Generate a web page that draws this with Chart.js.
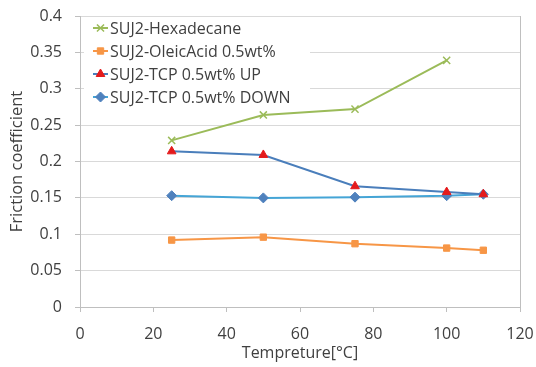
<!DOCTYPE html>
<html>
<head>
<meta charset="utf-8">
<script src="https://cdn.jsdelivr.net/npm/chart.js@4"></script>
<style>
  body { margin: 0; background: #fff; }
</style>
</head>
<body>
<canvas id="myChart" width="536" height="367"></canvas>
<script>
// temperatures (°C) and friction coefficients
const temps = [25, 50, 75, 100, 110]
const hexadecane = [0.229, 0.264, 0.272, 0.339]
const oleicAcid = [0.092, 0.096, 0.087, 0.081, 0.078]
const tcpUp = [0.214, 0.209, 0.166, 0.158, 0.155]
const tcpDown = [0.153, 0.150, 0.151, 0.153, 0.155]

const seriesNames = [
  'SUJ2-Hexadecane',
  'SUJ2-OleicAcid 0.5wt%',
  'SUJ2-TCP 0.5wt% UP',
  'SUJ2-TCP 0.5wt% DOWN',
]

const toPoints = (vals) => vals.map((v, i) => ({ x: temps[i], y: v }))

const FONT = '"Open Sans", sans-serif'

// legend drawn inside the plot, top left, white box over the grid
const insideLegend = {
  id: 'insideLegend',
  beforeDatasetsDraw(chart) {
    const ctx = chart.ctx
    ctx.save()
    ctx.fillStyle = '#fff'
    ctx.fillRect(chart.chartArea.left + 4, 17, 226, 92)
    ctx.font = '16px ' + FONT
    ctx.textBaseline = 'middle'
    chart.data.datasets.forEach((ds, i) => {
      const y = 28 + i * 23
      ctx.strokeStyle = ds.borderColor
      ctx.lineWidth = 2
      ctx.beginPath()
      ctx.moveTo(93, y)
      ctx.lineTo(108, y)
      ctx.stroke()
      // drawPoint uses whatever styles are on the ctx
      ctx.fillStyle = ds.backgroundColor
      ctx.strokeStyle = ds.pointBorderColor
      ctx.lineWidth = ds.pointBorderWidth
      Chart.helpers.drawPoint(ctx, {
        pointStyle: ds.pointStyle,
        radius: ds.pointRadius,
        rotation: 0,
        borderWidth: ds.pointBorderWidth,
      }, 100.5, y)
      ctx.fillStyle = '#404040'
      ctx.fillText(ds.label, 110, y + 1)
    })
    ctx.restore()
  },
}

const ctx = document.getElementById('myChart').getContext('2d')
const chart = new Chart(ctx, {
  type: 'line',
  data: {
    datasets: [
      {
        label: seriesNames[0],
        data: toPoints(hexadecane),
        borderColor: '#9bbb59',
        backgroundColor: '#9bbb59',
        pointStyle: 'crossRot',
        pointRadius: 5,
        pointBorderColor: '#9bbb59',
        pointBorderWidth: 1.5,
        borderWidth: 2,
      },
      {
        label: seriesNames[1],
        data: toPoints(oleicAcid),
        borderColor: '#f79646',
        backgroundColor: '#f79646',
        pointStyle: 'rect',
        pointRadius: 4.5,
        pointBorderColor: '#f79646',
        pointBorderWidth: 1,
        borderWidth: 2,
      },
      {
        label: seriesNames[2],
        data: toPoints(tcpUp),
        borderColor: '#4a7ebb',
        backgroundColor: '#e41a1c',
        pointStyle: 'triangle',
        pointRadius: 5,
        pointBorderColor: '#e41a1c',
        pointBorderWidth: 1,
        borderWidth: 2,
      },
      {
        label: seriesNames[3],
        data: toPoints(tcpDown),
        borderColor: '#45a5d6',
        backgroundColor: '#4f81bd',
        pointStyle: 'rectRot',
        pointRadius: 5,
        pointBorderColor: '#4f81bd',
        pointBorderWidth: 1,
        borderWidth: 2,
      },
    ],
  },
  options: {
    responsive: false,
    animation: false,
    layout: { padding: { top: 16, right: 16, left: 0, bottom: 0 } },
    plugins: {
      legend: { display: false },
      tooltip: { enabled: false },
    },
    scales: {
      x: {
        type: 'linear',
        min: 0,
        max: 120,
        ticks: { stepSize: 20, color: '#404040', font: { family: FONT, size: 16 }, padding: 13 },
        grid: {
          color: (c) => (c.tick && c.tick.value === 120 ? '#bfbfbf' : 'rgba(0,0,0,0)'),
          tickColor: '#bfbfbf',
          tickLength: 5,
        },
        border: { color: '#bfbfbf' },
        title: {
          display: true,
          text: 'Tempreture[°C]',
          color: '#404040',
          font: { family: FONT, size: 16 },
          padding: { top: 0, bottom: 4 },
        },
        afterFit(scale) {
          scale.height = 60
          scale.paddingLeft = 0
          scale.paddingRight = 0
        },
      },
      y: {
        min: 0,
        max: 0.4,
        ticks: {
          stepSize: 0.05,
          color: '#404040',
          font: { family: FONT, size: 16 },
          padding: 13,
          callback: (v) => String(Number(v.toFixed(2))),
        },
        grid: { color: '#d9d9d9', tickColor: '#bfbfbf', tickLength: 5 },
        border: { color: '#bfbfbf' },
        title: {
          display: true,
          text: 'Friction coefficient',
          color: '#404040',
          font: { family: FONT, size: 16.5 },
          padding: { top: 7, bottom: 0 },
        },
        afterFit(scale) {
          scale.width = 80
          scale.paddingTop = 0
          scale.paddingBottom = 0
        },
      },
    },
  },
  plugins: [insideLegend],
})
</script>
</body>
</html>
